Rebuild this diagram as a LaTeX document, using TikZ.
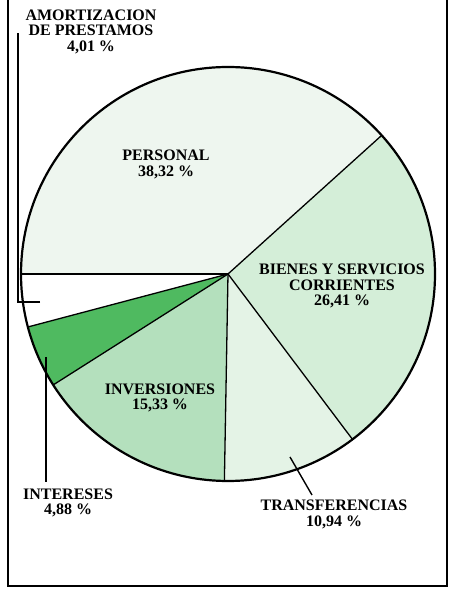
\documentclass[tikz,border=0pt]{standalone}
\usepackage{fontspec}
\setmainfont{Liberation Serif}
\definecolor{cpers}{HTML}{EEF6EF}
\definecolor{cbien}{HTML}{D4EED8}
\definecolor{ctran}{HTML}{E4F3E6}
\definecolor{cinve}{HTML}{B4E0BD}
\definecolor{cinte}{HTML}{4FBA60}
\begin{document}
\begin{tikzpicture}[x=1pt,y=1pt,
  lab/.style={font=\bfseries\fontsize{16}{15.5}\selectfont, align=center, inner sep=0pt},
  divider/.style={line width=1.3pt},
  leader/.style={line width=1.4pt},
  frame/.style={line width=2pt}]
\useasboundingbox (0,0) rectangle (458,589);
\coordinate (c) at (228,315);
\def\R{207}
\begin{scope}[shift={(c)}]
  \fill[cpers] (0,0) -- (42.05:\R) arc[start angle=42.05, end angle=180, radius=\R] -- cycle;
  \fill[cbien] (0,0) -- (-53.03:\R) arc[start angle=-53.03, end angle=42.05, radius=\R] -- cycle;
  \fill[ctran] (0,0) -- (-91.0:\R) arc[start angle=-91.0, end angle=-53.03, radius=\R] -- cycle;
  \fill[cinve] (0,0) -- (-147.60:\R) arc[start angle=-147.60, end angle=-91.0, radius=\R] -- cycle;
  \fill[cinte] (0,0) -- (-165.17:\R) arc[start angle=-165.17, end angle=-147.60, radius=\R] -- cycle;
  \fill[white] (0,0) -- (-180:\R) arc[start angle=-180, end angle=-165.17, radius=\R] -- cycle;
  \foreach \a in {42.05,-53.03,-91.0,-147.60,-165.17,180}
    \draw[divider] (0,0) -- (\a:\R);
  \draw[line width=2.2pt] (0,0) circle[radius=\R];
\end{scope}
% frame
\draw[frame] (8,592) -- (8,3) -- (447,3) -- (447,592);
% labels
\node[lab] (amort) at (91,557.5) {AMORTIZACION\\DE PRESTAMOS\\4,01 \%};
\node[lab] (pers) at (166,424.5) {PERSONAL\\38,32 \%};
\node[lab] (bien) at (342,303) {BIENES Y SERVICIOS\\CORRIENTES\\26,41 \%};
\node[lab] (inve) at (160,191) {INVERSIONES\\15,33 \%};
\node[lab] (inte) at (68,86) {INTERESES\\4,88 \%};
\node[lab] (tran) at (334,74.5) {TRANSFERENCIAS\\10,94 \%};
% leaders
\coordinate (amA) at (40,287);
\coordinate (amB) at (18,287);
\coordinate (amC) at (18,556);
\draw[leader] (amA) -- (amB) -- (amC);
\coordinate (inA) at (46,232);
\coordinate (inB) at (46,107);
\draw[leader] (inA) -- (inB);
\coordinate (trA) at (290,132);
\coordinate (trB) at (312,94);
\draw[leader] (trA) -- (trB);
\end{tikzpicture}
\end{document}
